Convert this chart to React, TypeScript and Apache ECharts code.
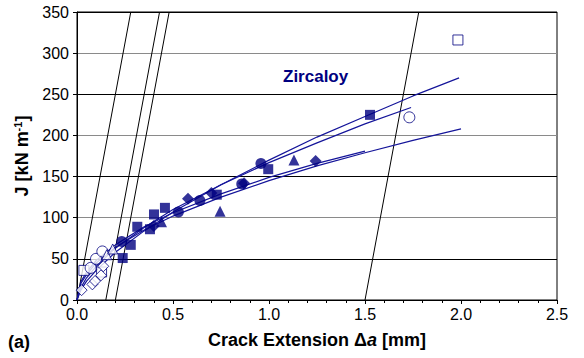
import React, { useEffect, useRef } from "react";
import * as echarts from "echarts";

// J–R data for Zircaloy specimens (Δa in mm, J in kN/m)
const filledSquare = [[0.238, 51], [0.28, 67], [0.314, 89], [0.38, 86], [0.401, 104], [0.458, 112], [0.728, 128], [0.996, 159], [1.526, 225]];
const filledCircle = [[0.233, 71], [0.528, 107], [0.64, 121], [0.858, 141], [0.958, 166]];
const filledDiamond = [[0.40, 90], [0.578, 123], [0.70, 130], [0.87, 142], [1.243, 169]];
const filledTriangle = [[0.44, 95], [0.745, 108], [1.13, 170]];
const openSquare = [[0.036, 36], [0.128, 34], [1.984, 316]];
const openCircle = [[0.071, 39], [0.099, 50], [0.132, 59], [1.731, 222]];
const openDiamond = [[0.024, 12], [0.08, 19], [0.094, 23], [0.125, 30], [0.137, 41]];
const openTriangle = [[0.155, 55], [0.186, 62]];

// Power-law fit curves
const fitA = [[0, 0], [0.02, 12], [0.05, 23], [0.1, 36], [0.2, 58], [0.35, 84], [0.5, 107], [0.75, 140], [1.0, 170], [1.25, 198], [1.5, 223], [1.75, 248], [1.99, 270]];
const fitB = [[0, 0], [0.02, 15], [0.05, 27], [0.1, 41], [0.2, 63], [0.35, 88], [0.5, 110], [0.75, 140], [1.0, 167], [1.25, 191], [1.5, 214], [1.74, 234]];
const fitC = [[0, 0], [0.02, 20], [0.05, 31], [0.1, 45], [0.2, 64], [0.35, 85], [0.5, 102], [0.75, 125], [1.0, 145], [1.25, 163], [1.5, 179], [1.75, 194], [2.0, 208]];
const fitD = [[0, 0], [0.02, 22], [0.05, 34], [0.1, 48], [0.2, 67], [0.35, 89], [0.5, 106], [0.75, 129], [1.0, 149], [1.25, 166], [1.5, 181]];

// Blunting line and offset exclusion lines
const bluntingLine = [[0, 0], [0.28, 350]];
const offset015 = [[0.15, 0], [0.43, 350]];
const offset020 = [[0.2, 0], [0.48, 350]];
const offset150 = [[1.5, 0], [1.78, 350]];

const NAVY = "#000080";
const FIT = "#15159a";
const FONT = "Arial, 'Liberation Sans', sans-serif";

export default function App() {
  const ref = useRef<HTMLDivElement>(null);

  useEffect(() => {
    if (!ref.current) return;
    const chart = echarts.init(ref.current, undefined, { renderer: "svg" });

    const markerSeries = (data: number[][], symbol: string, size: number, filled: boolean) => ({
      type: "scatter",
      data,
      symbol,
      symbolSize: size,
      z: 5,
      itemStyle: filled
        ? { color: NAVY }
        : { color: "#fff", borderColor: NAVY, borderWidth: 1 },
    });

    const lineSeries = (data: number[][], color: string, width: number) => ({
      type: "line",
      data,
      symbol: "none",
      z: 3,
      lineStyle: { color, width },
    });

    chart.setOption({
      animation: false,
      textStyle: { fontFamily: FONT },
      grid: {
        left: 77,
        right: 27,
        top: 12,
        bottom: 58,
        show: true,
        borderColor: "#000",
        borderWidth: 1,
      },
      xAxis: {
        type: "value",
        min: 0,
        max: 2.5,
        interval: 0.5,
        name: "Crack Extension Δ{i|a} [mm]",
        nameLocation: "middle",
        nameGap: 31,
        nameTextStyle: {
          fontSize: 18,
          fontWeight: "bold",
          color: "#000",
          fontFamily: FONT,
          rich: {
            i: { fontSize: 18, fontWeight: "bold", fontStyle: "italic", color: "#000", fontFamily: FONT },
          },
        },
        axisLine: { lineStyle: { color: "#000", width: 1 } },
        axisTick: { show: true, length: 4, lineStyle: { color: "#000" } },
        minorTick: { show: true, splitNumber: 5, length: 3, lineStyle: { color: "#000" } },
        axisLabel: {
          fontSize: 16,
          color: "#000",
          margin: 6,
          formatter: (v: number) => v.toFixed(1),
        },
        splitLine: { show: false },
      },
      yAxis: {
        type: "value",
        min: 0,
        max: 350,
        interval: 50,
        name: "J [kN m{sup|-1}]",
        nameLocation: "middle",
        nameRotate: 90,
        nameGap: 42,
        nameTextStyle: {
          fontSize: 18,
          fontWeight: "bold",
          color: "#000",
          fontFamily: FONT,
          rich: {
            sup: { fontSize: 11, fontWeight: "bold", color: "#000", fontFamily: FONT, verticalAlign: "top", padding: [0, 0, 8, 0] },
          },
        },
        axisLine: { show: true, lineStyle: { color: "#000", width: 1 } },
        axisTick: { show: true, length: 4, lineStyle: { color: "#000" } },
        axisLabel: { fontSize: 16, color: "#000", margin: 8 },
        splitLine: { show: true, lineStyle: { color: ["#8a8a8a", "#000"], width: 1 } },
      },
      graphic: [
        {
          type: "text",
          left: 283,
          top: 68,
          style: { text: "Zircaloy", fill: NAVY, font: `bold 17px ${FONT}` },
        },
        {
          type: "text",
          left: 8,
          top: 333,
          style: { text: "(a)", fill: "#000", font: `bold 18px ${FONT}` },
        },
      ],
      series: [
        lineSeries(bluntingLine, "#000", 1),
        lineSeries(offset015, "#000", 1),
        lineSeries(offset020, "#000", 1),
        lineSeries(offset150, "#000", 1),
        lineSeries(fitA, FIT, 1.2),
        lineSeries(fitB, FIT, 1.2),
        lineSeries(fitC, FIT, 1.2),
        lineSeries(fitD, FIT, 1.2),
        markerSeries(filledSquare, "rect", 10, true),
        markerSeries(filledCircle, "circle", 11, true),
        markerSeries(filledDiamond, "diamond", 12, true),
        markerSeries(filledTriangle, "triangle", 11, true),
        markerSeries(openSquare, "rect", 10, false),
        markerSeries(openCircle, "circle", 11, false),
        markerSeries(openDiamond, "diamond", 11, false),
        markerSeries(openTriangle, "triangle", 10, false),
      ],
    });

    return () => chart.dispose();
  }, []);

  return (
    <div
      ref={ref}
      style={{ position: "absolute", left: 0, top: 0, width: 584, height: 358 }}
    />
  );
}
